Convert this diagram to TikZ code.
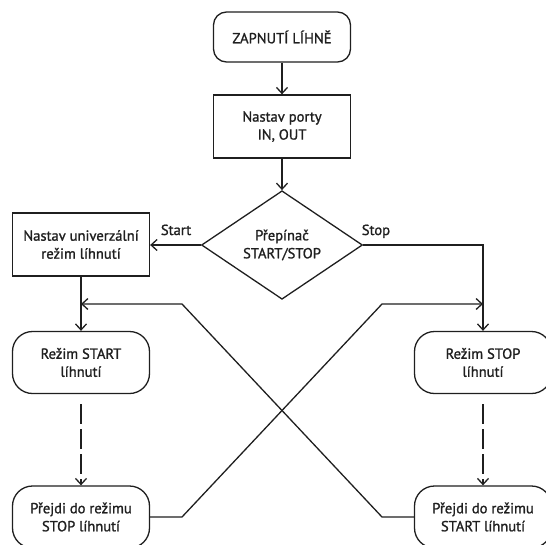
\documentclass[tikz,border=0pt]{standalone}
\usepackage{fontspec}
\setmainfont{PT Sans}[UprightFeatures={FakeBold=1.2}]
\usetikzlibrary{shapes.geometric,arrows.meta}
\begin{document}
\begin{tikzpicture}[x=1pt,y=-1pt,
    line width=1.3pt, color=black!88,
    base/.style={draw, align=center, font=\fontsize{14.6}{18}\selectfont, inner sep=0pt},
    term/.style={base, rounded corners=13pt, minimum width=137pt, minimum height=50pt},
    proc/.style={base, rectangle, minimum width=137pt, minimum height=63pt},
    mode/.style={base, rounded corners=20pt, minimum width=137pt, minimum height=62pt},
    decide/.style={base, diamond, minimum width=161pt, minimum height=107pt},
    lbl/.style={font=\fontsize{14.6}{18}\selectfont, inner sep=0pt},
    gap/.style={dash pattern=on 20pt off 5pt, shorten <=10pt},
    >={Straight Barb[length=6pt,width=11pt]}]
  \useasboundingbox (0,0) rectangle (546,544);
  % boxes
  \node[term] (zap) at (282,37) {ZAPNUTÍ LÍHNĚ};
  \node[proc] (porty) at (282,126.5) {Nastav porty\\IN, OUT};
  \node[decide] (prep) at (282,245) {Přepínač\\START/STOP};
  \node[proc] (univ) at (81,244.5) {Nastav univerzální\\režim líhnutí};
  \node[mode] (rstart) at (81,362.5) {Režim START\\líhnutí};
  \node[mode] (rstop) at (483,362.5) {Režim STOP\\líhnutí};
  \node[mode] (pstop) at (81,517) {Přejdi do režimu\\STOP líhnutí};
  \node[mode] (pstart) at (483,517) {Přejdi do režimu\\START líhnutí};
  % labels
  \node[lbl, anchor=base east] (lstart) at ([xshift=-9pt,yshift=10pt]prep.west) {Start};
  \node[lbl, anchor=base west] (lstop) at ([xshift=-2pt,yshift=10pt]prep.east) {Stop};
  % bends
  \coordinate (sr) at (483,245);
  \coordinate (jl) at (81,304);
  \coordinate (jr) at (483,304);
  \coordinate (kl) at (182,304);
  \coordinate (kr) at (382,304);
  \coordinate (ml) at (182,517);
  \coordinate (mr) at (382,517);
  % lines
  \draw[->] (zap) -- (porty);
  \draw[->] (porty) -- (prep);
  \draw[->] (prep.west) -- (prep.west -| univ.east);
  \draw[->] (prep.east) -- (sr) -- (rstop);
  \draw[->] (univ) -- (rstart);
  \draw[->, gap] (rstart) -- (pstop);
  \draw[->, gap] (rstop) -- (pstart);
  \draw[->] (pstop) -- (ml) -- (kr) -- (jr);
  \draw[->] (pstart) -- (mr) -- (kl) -- (jl);
\end{tikzpicture}
\end{document}
